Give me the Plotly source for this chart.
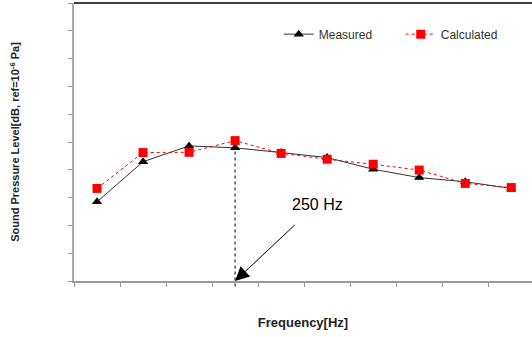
import plotly.graph_objects as go

frequencies = ["125", "160", "200", "250", "315", "400", "500", "630", "800", "1000"]
measured = [28.5, 42.9, 48.6, 47.9, 46.2, 44.4, 40.2, 37.2, 35.7, 33.3]
calculated = [33.3, 46.2, 46.3, 50.5, 45.9, 43.8, 42.0, 39.9, 35.1, 33.6]
marked_index = 3
marked_label = "250 Hz"

FONT = "Liberation Sans, Arial, sans-serif"

fig = go.Figure()
fig.add_trace(go.Scatter(
    x=frequencies, y=measured, name="Measured", mode="lines+markers",
    line=dict(color="#333333", width=1),
    marker=dict(symbol="triangle-up", size=9, color="black"),
))
fig.add_trace(go.Scatter(
    x=frequencies, y=calculated, name="Calculated", mode="lines+markers",
    line=dict(color="red", width=1, dash="3px,3px"),
    marker=dict(symbol="square", size=9, color="red"),
))

# dotted vertical marker line (category serial number on x)
fig.add_shape(type="line", xref="x", yref="paper",
              x0=marked_index, x1=marked_index,
              y0=-0.02, y1=(measured[marked_index]) / 100,
              line=dict(color="#555555", width=1.5, dash="dot"))
# top border
fig.add_shape(type="line", xref="paper", yref="paper", x0=0, x1=1, y0=1, y1=1,
              line=dict(color="black", width=1.5))

fig.add_annotation(x=marked_index, y=0, xref="x", yref="y",
                   ax=82, ay=-77, showarrow=True, arrowhead=2, arrowsize=2.8,
                   arrowwidth=1, arrowcolor="black", startstandoff=16,
                   text=marked_label,
                   font=dict(family=FONT, size=16, color="black"))

fig.update_layout(
    width=532, height=337,
    margin=dict(l=74, r=0, t=3, b=56, autoexpand=False),
    paper_bgcolor="white", plot_bgcolor="white",
    font=dict(family=FONT, color="#222222"),
    showlegend=True,
    legend=dict(orientation="h", x=0.447, y=0.888, xanchor="left", yanchor="middle",
                font=dict(family=FONT, size=12, color="#333333"),
                bgcolor="rgba(0,0,0,0)", entrywidth=77),
    xaxis=dict(
        type="category", range=[-0.5, 9.45], showgrid=False, zeroline=False,
        showline=True, linecolor="#999999", linewidth=1.5, automargin=False,
        ticks="outside", tickson="boundaries", ticklen=4, tickcolor="#999999",
        showticklabels=False,
        title=dict(text="<b>Frequency[Hz]</b>", standoff=36,
                   font=dict(family=FONT, size=13, color="#222222")),
    ),
    yaxis=dict(
        range=[0, 100], dtick=10, showgrid=False, zeroline=False,
        showline=True, linecolor="#aaaaaa", linewidth=1.5, automargin=False,
        ticks="outside", ticklen=4, tickcolor="#999999",
        showticklabels=False,
        title=dict(text="<b>Sound Pressure Level[dB, ref=10<sup>-6</sup> Pa]</b>", standoff=46,
                   font=dict(family=FONT, size=11, color="#222222")),
    ),
)

fig.write_html("out.html", config={"displayModeBar": False},
               post_script="document.body.style.margin='0';")
